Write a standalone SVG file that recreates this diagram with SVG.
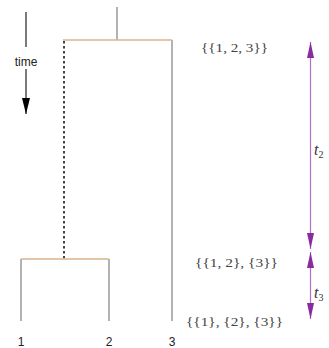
<svg xmlns="http://www.w3.org/2000/svg" width="329" height="348" viewBox="0 0 329 348">
<defs>
<style>
.tree{stroke:#9a9a9a;stroke-width:1.5;fill:none}
.join{stroke:#d9b38c;stroke-width:1.5;fill:none}
.dot{stroke:#444;stroke-width:2;stroke-dasharray:2.5 2.5;fill:none}
.purple{stroke:#b070c8;stroke-width:1.2;fill:none}
.lab{font-family:"Liberation Sans",Arial,sans-serif;font-size:12px;fill:#222}
.set{font-family:"Liberation Serif","Times New Roman",serif;font-size:13px;fill:#444}
.t{font-family:"Liberation Serif","Times New Roman",serif;font-style:italic;font-size:16px;fill:#333}
.sub{font-family:"Liberation Serif","Times New Roman",serif;font-style:normal;font-size:10px;fill:#333}
</style>
<marker id="ph" viewBox="0 0 16 7" refX="16" refY="3.5" markerWidth="16" markerHeight="7" orient="auto-start-reverse" markerUnits="userSpaceOnUse">
<path d="M0,0 L16,3.5 L0,7 z" fill="#8a2a9e"/>
</marker>
<marker id="bh" viewBox="0 0 16 8" refX="16" refY="4" markerWidth="16" markerHeight="8" orient="auto" markerUnits="userSpaceOnUse">
<path d="M0,0 L16,4 L0,8 z" fill="#000"/>
</marker>
</defs>
<g id="connectors">
<line class="tree" x1="117" y1="7" x2="117" y2="40"/>
<line class="tree" x1="172" y1="40" x2="172" y2="321"/>
<line class="dot" x1="64" y1="41" x2="64" y2="259"/>
<line class="join" x1="63" y1="40" x2="172" y2="40"/>
<line class="tree" x1="21" y1="259" x2="21" y2="321"/>
<line class="tree" x1="109" y1="259" x2="109" y2="321"/>
<line class="join" x1="21" y1="259" x2="109" y2="259"/>
</g>
<g id="time">
<line x1="26" y1="12" x2="26" y2="47" stroke="#222" stroke-width="1.2"/>
<text class="lab" x="26" y="66" text-anchor="middle" font-size="11">time</text>
<line x1="26" y1="69" x2="26" y2="114" stroke="#222" stroke-width="1.2" marker-end="url(#bh)"/>
</g>
<g id="leaf1"><text class="lab" x="21" y="346" text-anchor="middle">1</text></g>
<g id="leaf2"><text class="lab" x="109" y="346" text-anchor="middle">2</text></g>
<g id="leaf3"><text class="lab" x="172" y="346" text-anchor="middle">3</text></g>
<g id="set123"><text class="set" x="201" y="52" textLength="67" lengthAdjust="spacingAndGlyphs">{{1, 2, 3}}</text></g>
<g id="set12_3"><text class="set" x="195" y="267" textLength="83" lengthAdjust="spacingAndGlyphs">{{1, 2}, {3}}</text></g>
<g id="set1_2_3"><text class="set" x="186" y="326" textLength="97" lengthAdjust="spacingAndGlyphs">{{1}, {2}, {3}}</text></g>
<g id="t2">
<line class="purple" x1="310.5" y1="42" x2="310.5" y2="249" marker-start="url(#ph)" marker-end="url(#ph)"/>
<text class="t" x="314" y="155">t<tspan class="sub" dy="3">2</tspan></text>
</g>
<g id="t3">
<line class="purple" x1="310.5" y1="252" x2="310.5" y2="319" marker-start="url(#ph)" marker-end="url(#ph)"/>
<text class="t" x="314" y="298">t<tspan class="sub" dy="3">3</tspan></text>
</g>
</svg>
